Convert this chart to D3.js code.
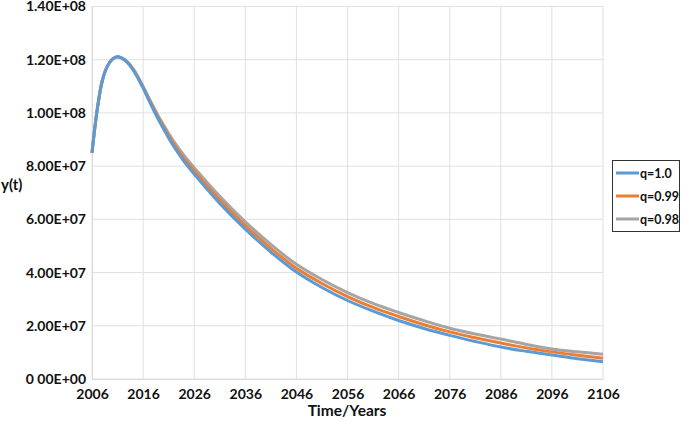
<!DOCTYPE html>
<html>
<head>
<meta charset="utf-8">
<script src="https://cdn.jsdelivr.net/npm/d3@7"></script>
<style>
  body { margin: 0; background: #fff; }
  svg { font-family: Lato, "Open Sans", sans-serif; font-weight: bold; }
</style>
</head>
<body>
<svg width="685" height="421"></svg>
<script>
// values
var years = [2006, 2007, 2008, 2009, 2010, 2011, 2012, 2013, 2014, 2015, 2016, 2017, 2018, 2019, 2020, 2021, 2022, 2024, 2026, 2031, 2036, 2041, 2046, 2051, 2056, 2061, 2066, 2071, 2076, 2081, 2086, 2091, 2096, 2101, 2106];
var q100 = [8.5e7, 1.01e8, 1.12e8, 1.175e8, 1.202e8, 1.211e8, 1.204e8, 1.188e8, 1.163e8, 1.13e8, 1.093e8, 1.053e8, 1.013e8, 9.75e7, 9.4e7, 9.06e7, 8.74e7, 8.18e7, 7.7e7, 6.6e7, 5.63e7, 4.77e7, 4.02e7, 3.44e7, 2.95e7, 2.55e7, 2.2e7, 1.9e7, 1.64e7, 1.41e7, 1.2e7, 1.04e7, 9.0e6, 7.6e6, 6.5e6];
var q099 = [8.5e7, 1.01e8, 1.12e8, 1.175e8, 1.202e8, 1.211e8, 1.204e8, 1.189e8, 1.165e8, 1.133e8, 1.096e8, 1.057e8, 1.018e8, 9.81e7, 9.47e7, 9.14e7, 8.83e7, 8.28e7, 7.81e7, 6.73e7, 5.77e7, 4.91e7, 4.16e7, 3.59e7, 3.1e7, 2.69e7, 2.35e7, 2.04e7, 1.77e7, 1.55e7, 1.35e7, 1.17e7, 1.02e7, 8.9e6, 7.8e6];
var q098 = [8.5e7, 1.01e8, 1.12e8, 1.175e8, 1.202e8, 1.211e8, 1.205e8, 1.19e8, 1.167e8, 1.136e8, 1.1e8, 1.062e8, 1.024e8, 9.88e7, 9.55e7, 9.23e7, 8.93e7, 8.4e7, 7.94e7, 6.87e7, 5.91e7, 5.06e7, 4.31e7, 3.74e7, 3.25e7, 2.84e7, 2.5e7, 2.19e7, 1.91e7, 1.69e7, 1.5e7, 1.3e7, 1.13e7, 1.02e7, 9.3e6];
var seriesNames = ["q=1.0", "q=0.99", "q=0.98"];
var colors = ["#5b9bd5", "#ed7d31", "#a5a5a5"];
var xTicks = [2006, 2016, 2026, 2036, 2046, 2056, 2066, 2076, 2086, 2096, 2106];
var yTicks = [0, 2e7, 4e7, 6e7, 8e7, 1e8, 1.2e8, 1.4e8];
var yTickLabels = ["0 00E+00", "2.00E+07", "4.00E+07", "6.00E+07", "8.00E+07", "1.00E+08", "1.20E+08", "1.40E+08"];

function drawChart() {
  var svg = d3.select("svg");
  var pLeft = 92, pRight = 603, pTop = 6.5, pBottom = 379;

  var x = d3.scaleLinear().domain([2006, 2106]).range([pLeft, pRight]);
  var y = d3.scaleLinear().domain([0, 1.4e8]).range([pBottom, pTop]);

  // grid
  svg.append("g").selectAll("line").data(xTicks).enter().append("line")
      .attr("x1", function(d) { return x(d); }).attr("x2", function(d) { return x(d); })
      .attr("y1", pTop).attr("y2", pBottom)
      .attr("stroke", "#e0e0e0").attr("stroke-width", 1);
  svg.append("g").selectAll("line").data(yTicks).enter().append("line")
      .attr("x1", pLeft).attr("x2", pRight)
      .attr("y1", function(d) { return y(d); }).attr("y2", function(d) { return y(d); })
      .attr("stroke", "#e0e0e0").attr("stroke-width", 1);

  // axes
  var xAxis = svg.append("g")
      .attr("transform", "translate(0," + pBottom + ")")
      .call(d3.axisBottom(x).tickValues(xTicks).tickFormat(d3.format("d")).tickSize(0).tickPadding(10));
  xAxis.select(".domain").attr("stroke", "#d9d9d9");

  var yAxis = svg.append("g")
      .attr("transform", "translate(" + pLeft + ",0)")
      .call(d3.axisLeft(y).tickValues(yTicks).tickFormat(function(d, i) { return yTickLabels[i]; }).tickSize(0).tickPadding(6));
  yAxis.select(".domain").attr("stroke", "#d9d9d9");

  svg.selectAll(".tick text")
      .attr("font-family", "Lato, 'Open Sans', sans-serif")
      .attr("font-weight", "bold")
      .attr("font-size", 14)
      .attr("fill", "#111");

  // series
  var line = d3.line()
      .x(function(d) { return x(d[0]); })
      .y(function(d) { return y(d[1]); })
      .curve(d3.curveCatmullRom);

  var allSeries = [q100, q099, q098];
  for (var s = allSeries.length - 1; s >= 0; s--) {
    var pts = years.map(function(yr, i) { return [yr, allSeries[s][i]]; });
    svg.append("path")
        .datum(pts)
        .attr("fill", "none")
        .attr("stroke", colors[s])
        .attr("stroke-width", 3)
        .attr("stroke-linejoin", "round")
        .attr("d", line);
  }

  // axis titles
  svg.append("text").attr("x", 347).attr("y", 416).attr("text-anchor", "middle")
      .attr("font-size", 15.5).attr("fill", "#111").text("Time/Years");
  svg.append("text").attr("x", 1).attr("y", 190)
      .attr("font-size", 15).attr("fill", "#111").text("y(t)");

  // legend
  var lg = svg.append("g");
  lg.append("rect").attr("x", 612.5).attr("y", 160.5).attr("width", 67).attr("height", 71)
      .attr("fill", "#fff").attr("stroke", "#333").attr("stroke-width", 1);
  seriesNames.forEach(function(name, i) {
    var ly = 173 + i * 23;
    lg.append("line").attr("x1", 616).attr("x2", 639).attr("y1", ly).attr("y2", ly)
        .attr("stroke", colors[i]).attr("stroke-width", 3);
    lg.append("text").attr("x", 640).attr("y", ly + 4.5)
        .attr("font-size", 12.5).attr("fill", "#111").text(name);
  });
}

drawChart();
</script>
</body>
</html>
